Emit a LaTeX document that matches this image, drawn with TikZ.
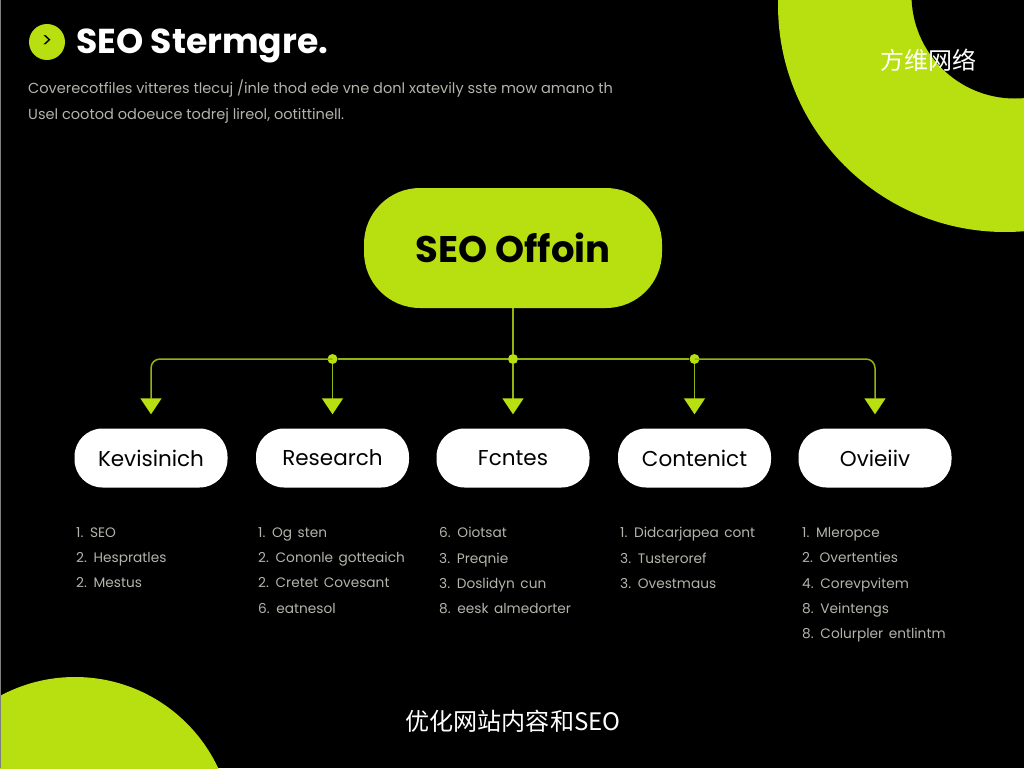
\documentclass[tikz,border=0pt]{standalone}
\usepackage{fontspec}
\setmainfont{Poppins}
\newfontfamily\cjkfont{Noto Sans CJK SC}
\newfontfamily\listfont[WordSpace=1.5]{Poppins}
\usetikzlibrary{positioning,arrows.meta}
\definecolor{lime}{HTML}{B8E011}
\definecolor{listgray}{HTML}{B4B4AC}
\tikzset{
  branchbox/.style={draw=none, fill=white, rounded corners=28pt, minimum width=153pt, minimum height=59pt, text=black, font=\fontsize{21.5}{26}\selectfont, inner sep=0pt},
  junction/.style={circle, fill=lime, minimum size=10pt, inner sep=0pt},
  listtext/.style={anchor=north west, text=listgray, font=\listfont\fontsize{13.7}{25.4}\selectfont, align=left, inner sep=0pt},
  feed/.style={draw=lime!80!black, line width=1.5pt},
  feedarrow/.style={feed, -{Triangle[length=16pt,width=21pt,color=lime]}, shorten >=14pt},
}
\begin{document}
\begin{tikzpicture}[x=1pt,y=-1pt]
\useasboundingbox (0,0) rectangle (1024,768);
\fill[black] (0,0) rectangle (1024,768);
% Corner shapes
\begin{scope}
\clip (0,0) rectangle (1024,768);
\fill[lime] (1005,5) circle[radius=227];
\fill[black] (1015,-5) circle[radius=103.5];
\fill[lime] (75,835) circle[radius=158];
\end{scope}
\fill[gray] (0,0) rectangle (1,768);
% Header
\node[circle, fill=lime, minimum size=36pt, inner sep=0pt, font=\fontsize{20}{20}\selectfont] (badge) at (47,42) {>};
\node[anchor=base west, text=white, font=\bfseries\fontsize{34.6}{38}\selectfont, inner sep=0pt] (title) at (76,54) {SEO Stermgre.};
\node[anchor=north west, text=listgray, font=\fontsize{14.55}{26}\selectfont, align=left, inner sep=0pt] (intro) at (28,80) {Coverecotfiles vitteres tlecuj /inle thod ede vne donl xatevily sste mow amano th\\Usel cootod odoeuce todrej lireol, ootittinell.};
\node[text=white, font=\cjkfont\fontsize{24}{28}\selectfont, inner sep=0pt] (brand) at (928,60) {方维网络};
% Main box
\node[fill=lime, rounded corners=56pt, minimum width=298pt, minimum height=120pt, text=black, font=\bfseries\fontsize{37}{42}\selectfont, inner sep=0pt] (main) at (513,248) {SEO Offoin};
% Branch boxes
\node[branchbox] (keyword) at (151,458) {Kevisinich};
\node[branchbox] (research) at (332.5,458) {Research};
\node[branchbox] (fontes) at (513,458) {Fcntes};
\node[branchbox] (content) at (694.5,458) {Contenict};
\node[branchbox] (overview) at (875,458) {Ovieiiv};
% Connectors
\node[junction] (j2) at (332.5,359) {};
\node[junction] (j3) at (513,359) {};
\node[junction] (j4) at (694.5,359) {};
\draw[feed] (main.south)--(j3);
\draw[feed] (j2)--(j3);
\draw[feed] (j3)--(j4);
\draw[feedarrow, rounded corners=9pt] (j2.center)-|(keyword.north);
\draw[feedarrow] (j2)--(research);
\draw[feedarrow] (j3)--(fontes);
\draw[feedarrow] (j4)--(content);
\draw[feedarrow, rounded corners=9pt] (j4.center)-|(overview.north);
% Lists
\node[listtext] (list1) at (76,527) {1. SEO\\2. Hespratles\\2. Mestus};
\node[listtext] (list2) at (258,527) {1. Og sten\\2. Cononle gotteaich\\2. Cretet Covesant\\6. eatnesol};
\node[listtext] (list3) at (439,527) {6. Oiotsat\\3. Preqnie\\3. Doslidyn cun\\8. eesk almedorter};
\node[listtext] (list4) at (620,527) {1. Didcarjapea cont\\3. Tusteroref\\3. Ovestmaus};
\node[listtext] (list5) at (802,527) {1. Mleropce\\2. Overtenties\\4. Corevpvitem\\8. Veintengs\\8. Colurpler entlintm};
% Caption
\node[text=white, font=\cjkfont\fontsize{24.1}{28}\selectfont, inner sep=0pt] (caption) at (513,721) {优化网站内容和SEO};
\end{tikzpicture}
\end{document}
